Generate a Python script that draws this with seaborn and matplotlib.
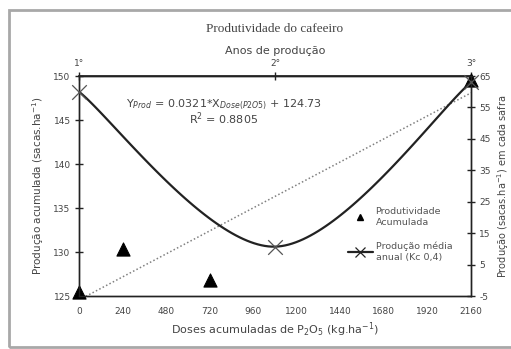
import numpy as np
import pandas as pd
import matplotlib
matplotlib.use("Agg")
import matplotlib.pyplot as plt
from matplotlib.patches import Rectangle
from matplotlib.lines import Line2D
import seaborn as sns

# accumulated P2O5 doses (kg/ha) and accumulated yield (left axis)
doses_acum = [0, 240, 720, 2160]
prod_acum = [125.5, 130.3, 126.8, 149.6]

# mean yearly production per harvest (right axis)
doses_safra = [0, 1080, 2160]
prod_safra = [60.0, 10.7, 63.0]

x_ticks = [0, 240, 480, 720, 960, 1200, 1440, 1680, 1920, 2160]
y_left_ticks = [125, 130, 135, 140, 145, 150]
y_right_ticks = [-5, 5, 15, 25, 35, 45, 55, 65]
anos_labels = ["1°", "2°", "3°"]

eq_text = r"Y$_{Prod}$ = 0.0321*X$_{Dose(P2O5)}$ + 124.73"
r2_text = r"R$^{2}$ = 0.8805"


def smooth_line(xs, ys, n=60):
    """Excel-like smoothed line (Catmull-Rom bezier through the points)."""
    pts = np.column_stack([xs, ys]).astype(float)
    ext = np.vstack([pts[0], pts, pts[-1]])
    out = []
    t = np.linspace(0, 1, n)[:, None]
    for i in range(len(pts) - 1):
        p0, p1 = ext[i + 1], ext[i + 2]
        c1 = p0 + (ext[i + 2] - ext[i]) / 6.0
        c2 = p1 - (ext[i + 3] - ext[i + 1]) / 6.0
        seg = ((1 - t) ** 3) * p0 + 3 * ((1 - t) ** 2) * t * c1 + 3 * (1 - t) * t ** 2 * c2 + t ** 3 * p1
        out.append(seg)
    seg = np.vstack(out)
    return seg[:, 0], seg[:, 1]


sns.set_theme(style="white")
plt.rcParams['font.family'] = ['DejaVu Sans']
plt.rcParams['axes.unicode_minus'] = False

fig = plt.figure(figsize=(5.11, 3.49), dpi=100)
fig.patch.set_facecolor("white")

# outer gray frame
fig.patches.append(Rectangle((9 / 511, 2 / 349), 1.0, 1 - 12 / 349,
                             transform=fig.transFigure, fill=False,
                             edgecolor="#a8a8a8", lw=2))

ax = fig.add_axes([79 / 511, 53 / 349, 392 / 511, 220 / 349])
ax2 = ax.twinx()

df_acum = pd.DataFrame({"dose": doses_acum, "prod": prod_acum})

# linear trend (dotted) and triangles
sns.regplot(data=df_acum, x="dose", y="prod", ax=ax, scatter=False, ci=None,
            line_kws=dict(color="#808080", lw=1.1, ls=(0, (1, 1.5))))
sns.scatterplot(data=df_acum, x="dose", y="prod", ax=ax, marker="^", s=90,
                color="black", edgecolor="black", clip_on=False, zorder=5)

# smoothed yearly production curve
sx, sy = smooth_line(doses_safra, prod_safra)
sns.lineplot(x=sx, y=sy, ax=ax2, color="#222222", lw=1.6, sort=False,
             estimator=None)
ax2.scatter(doses_safra, prod_safra, marker="x", s=110, color="#555555",
            lw=0.9, zorder=6, clip_on=False)

ax.set_xlim(0, 2160)
ax.set_ylim(125, 150)
ax2.set_ylim(-5, 65)
ax.set_xticks(x_ticks)
ax.set_xticklabels([str(v) for v in x_ticks])
ax.set_yticks(y_left_ticks)
ax2.set_yticks(y_right_ticks)

for a in (ax, ax2):
    for s in a.spines.values():
        s.set_color("#222222")
        s.set_linewidth(1.0)
ax.tick_params(axis="both", direction="inout", length=6, width=1.0,
               colors="#222222", labelcolor="#444444", labelsize=6.5, pad=3)
ax.tick_params(axis="x", pad=5)
ax2.tick_params(axis="y", direction="inout", length=6, width=1.0,
                colors="#222222", labelcolor="#444444", labelsize=6.5, pad=3)
ax.tick_params(axis="y", left=True)
ax2.tick_params(axis="y", right=True)

ax.set_xlabel("Doses acumuladas de P$_2$O$_5$ (kg.ha$^{-1}$)", fontsize=8,
              color="#444444", labelpad=3)
ax.set_ylabel("Produção acumulada (sacas.ha$^{-1}$)", fontsize=7.5,
              color="#444444", labelpad=5)
ax2.set_ylabel("Produção (sacas.ha$^{-1}$) em cada safra", fontsize=7,
               color="#444444", labelpad=8)
ax2.yaxis.set_label_coords(1.062, 0.5)

# top axis: production years
top = ax.secondary_xaxis("top")
top.set_xticks([doses_safra[0], doses_safra[1], doses_safra[2]])
top.set_xticklabels(anos_labels)
top.tick_params(direction="inout", length=6, width=1.0, colors="#222222",
                labelcolor="#444444", labelsize=6.5, pad=3)
top.set_xlabel("Anos de produção", fontsize=8, color="#444444", labelpad=3)
ax.set_title("Produtividade do cafeeiro", fontsize=9.5, color="#444444",
             family="Liberation Serif", pad=32)

ax.text(0.37, 0.86, eq_text, transform=ax.transAxes, ha="center",
        fontsize=8, color="#444444")
ax.text(0.37, 0.785, r2_text, transform=ax.transAxes, ha="center",
        fontsize=8, color="#444444")

handles = [
    Line2D([], [], ls="none", marker="^", color="black", markersize=4),
    Line2D([], [], color="#222222", lw=1.6, marker="x", markersize=7,
           markeredgewidth=0.9),
]
labels = ["Produtividade\nAcumulada", "Produção média\nanual (Kc 0,4)"]
ax.legend(handles, labels, loc="center left", bbox_to_anchor=(0.665, 0.28),
          frameon=False, fontsize=6.8, labelcolor="#555555",
          handlelength=2.6, handletextpad=0.3, labelspacing=1.6)

fig.savefig("out.png", dpi=100, facecolor="white")
